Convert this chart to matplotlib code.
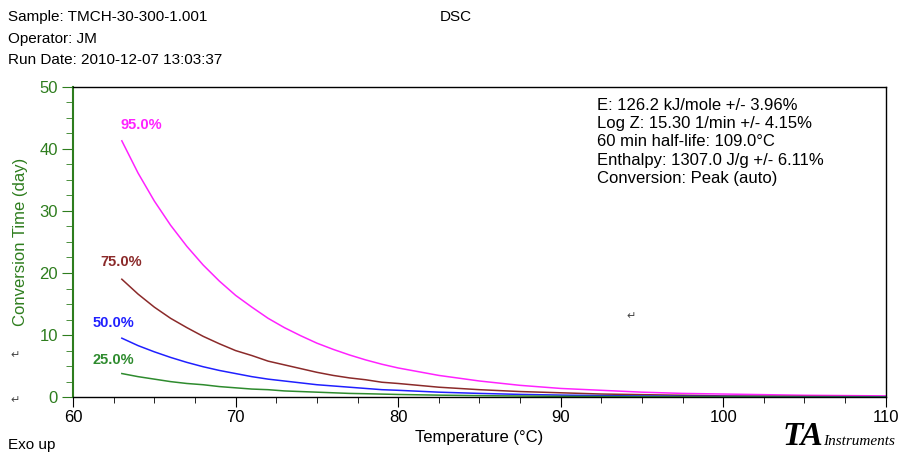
import matplotlib
matplotlib.use('Agg')
import matplotlib.pyplot as plt
from matplotlib.ticker import MultipleLocator

plt.rcParams['font.family'] = ['Liberation Sans', 'DejaVu Sans']

# Данные
temps = [63, 64, 65, 66, 67, 68, 69, 70, 71, 72, 73, 74, 75, 76, 77, 78, 79, 80,
         82.5, 85, 87.5, 90, 92.5, 95, 97.5, 100, 105, 110]
conv_95 = [41.3, 36.1, 31.6, 27.7, 24.3, 21.3, 18.7, 16.4, 14.5, 12.7, 11.2, 9.9, 8.7, 7.7,
           6.8, 6.0, 5.3, 4.7, 3.5, 2.6, 1.9, 1.4, 1.1, 0.8, 0.6, 0.5, 0.3, 0.2]
conv_75 = [19.0, 16.6, 14.5, 12.7, 11.2, 9.8, 8.6, 7.5, 6.7, 5.8, 5.2, 4.6, 4.0, 3.5,
           3.1, 2.8, 2.4, 2.2, 1.6, 1.2, 0.9, 0.7, 0.5, 0.4, 0.3, 0.2, 0.12, 0.07]
conv_50 = [9.5, 8.3, 7.3, 6.4, 5.6, 4.9, 4.3, 3.8, 3.3, 2.9, 2.6, 2.3, 2.0, 1.8,
           1.6, 1.4, 1.2, 1.1, 0.8, 0.6, 0.44, 0.33, 0.25, 0.19, 0.14, 0.11, 0.06, 0.04]
conv_25 = [3.8, 3.3, 2.9, 2.5, 2.2, 2.0, 1.7, 1.5, 1.3, 1.2, 1.0, 0.9, 0.8, 0.7,
           0.6, 0.55, 0.49, 0.43, 0.32, 0.24, 0.18, 0.13, 0.10, 0.08, 0.06, 0.04, 0.02, 0.01]

series = [
    ('95.0%', conv_95, '#ff22ff', (62.9, 43.9)),
    ('75.0%', conv_75, '#8b2a2a', (61.7, 21.8)),
    ('50.0%', conv_50, '#2020ff', (61.2, 11.9)),
    ('25.0%', conv_25, '#2e8b2e', (61.2, 6.0)),
]

info = ['E: 126.2 kJ/mole +/- 3.96%',
        'Log Z: 15.30 1/min +/- 4.15%',
        '60 min half-life: 109.0°C',
        'Enthalpy: 1307.0 J/g +/- 6.11%',
        'Conversion: Peak (auto)']

green = '#2e7d1e'

fig = plt.figure(figsize=(9.02, 4.57), dpi=100)
ax = fig.add_axes([0.081, 0.131, 0.901, 0.679])

for name, vals, col, pos in series:
    ax.plot(temps, vals, color=col, lw=1.1)
    ax.text(pos[0], pos[1], name, color=col, fontsize=10.5, fontweight='bold',
            va='center', ha='left')

ax.set_xlim(60, 110)
ax.set_ylim(0, 50)
ax.xaxis.set_major_locator(MultipleLocator(10))
ax.xaxis.set_minor_locator(MultipleLocator(2.5))
ax.yaxis.set_major_locator(MultipleLocator(10))
ax.yaxis.set_minor_locator(MultipleLocator(2.5))
ax.tick_params(axis='x', which='major', length=7, direction='out', labelsize=12, pad=2)
ax.tick_params(axis='x', which='minor', length=4, direction='out')
ax.tick_params(axis='y', which='major', length=8, direction='out', colors=green, labelsize=12, pad=3)
ax.tick_params(axis='y', which='minor', length=5, direction='out', colors=green)
ax.spines['left'].set_color(green)
ax.spines['left'].set_linewidth(1.5)
for s in ['top', 'right', 'bottom']:
    ax.spines[s].set_color('black')
    ax.spines[s].set_linewidth(1.0)

ax.set_xlabel('Temperature (°C)', fontsize=12, labelpad=4)
ax.set_ylabel('Conversion Time (day)', fontsize=12, color=green, labelpad=8)

# блок параметров
ax.text(0.645, 0.965, '\n'.join(info), transform=ax.transAxes, fontsize=12,
        va='top', ha='left', linespacing=1.28)

# шапка
fig.text(0.009, 0.962, 'Sample: TMCH-30-300-1.001', fontsize=11, va='center')
fig.text(0.009, 0.915, 'Operator: JM', fontsize=11, va='center')
fig.text(0.009, 0.868, 'Run Date: 2010-12-07 13:03:37', fontsize=11, va='center')
fig.text(0.487, 0.962, 'DSC', fontsize=11, va='center')

fig.text(0.009, 0.01, 'Exo up', fontsize=11, va='bottom')
fig.text(0.868, 0.01, 'TA', fontsize=24, fontweight='bold', style='italic',
         family='Liberation Serif', va='bottom')
fig.text(0.913, 0.02, 'Instruments', fontsize=11, style='italic',
         family='Liberation Serif', va='bottom')

# значки абзаца
for x, y in [(0.012, 0.223), (0.012, 0.125), (0.695, 0.308)]:
    fig.text(x, y, '↵', fontsize=8, color='#444444', family='DejaVu Sans', va='center')

fig.savefig('out.png', dpi=100)
